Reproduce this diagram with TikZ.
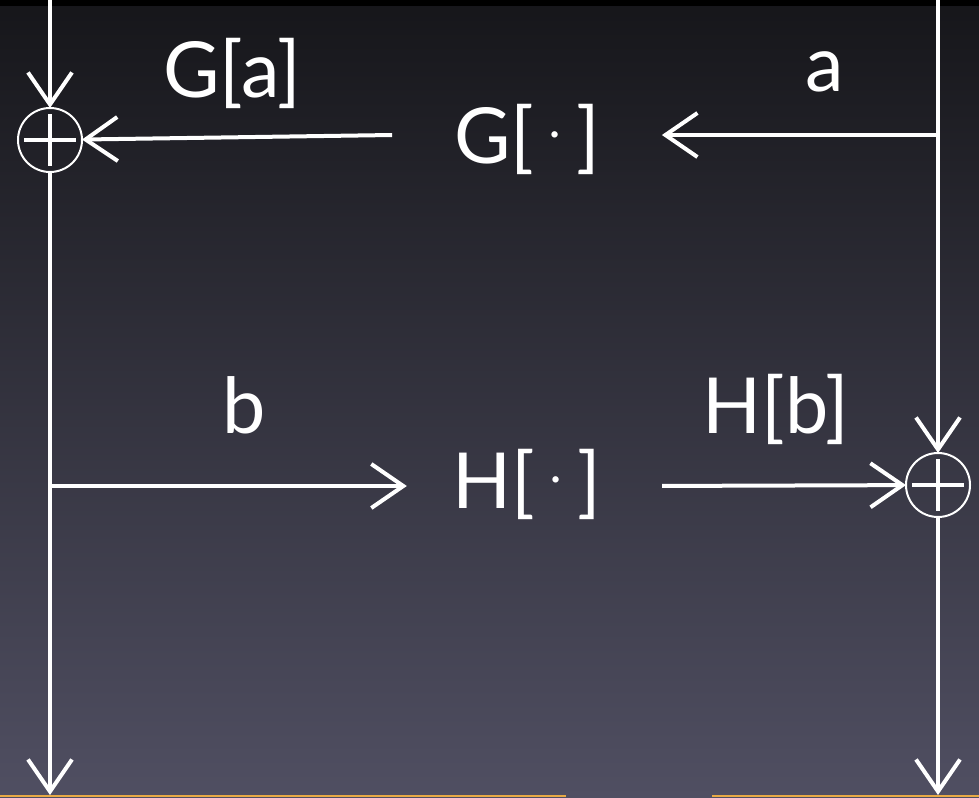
\documentclass[tikz,border=0pt]{standalone}
\usepackage{fontspec}
\setmainfont{Lato}
\usepackage{tikz}
\usetikzlibrary{positioning,arrows.meta}
\definecolor{bgtop}{RGB}{22,22,26}
\definecolor{bgbot}{RGB}{80,79,98}
\definecolor{edgeorange}{RGB}{232,170,70}
\newcommand{\argdot}{\hspace{0.2em}\raisebox{0.2em}{\scalebox{0.55}{·}}\hspace{0.2em}}

\begin{document}
\begin{tikzpicture}[x=0.25mm, y=-0.25mm, >={Straight Barb[length=8mm, width=11mm]},
                    sig/.style={draw=white, line width=1mm},
                    sumnode/.style={circle, draw=white, line width=0.5mm, minimum size=16mm,
                                    inner sep=0pt, outer sep=0pt,
                                    path picture={\draw[white, line width=1mm]
                                      (path picture bounding box.center) +(-26,0) -- +(26,0)
                                      +(0,-26) -- +(0,26);}},
                    op/.style={text=white, font=\fontsize{55}{60}\selectfont, inner ysep=0pt, outer sep=0pt},
                    lbl/.style={text=white, font=\fontsize{55}{60}\selectfont, inner sep=0pt, anchor=base west}]
            \useasboundingbox (0,0) rectangle (979,797);
            \shade[top color=bgtop, bottom color=bgbot] (0,0) rectangle (979,797);
            \fill[black] (0,0) rectangle (979,6);
            \fill[edgeorange] (0,795) rectangle (566,797);
            \fill[edgeorange] (712,795) rectangle (979,797);

            % Sum junctions
            \node[sumnode] (sumG) at (50,140) {};
            \node[sumnode] (sumH) at (938,485) {};

            % Operators
            \node[op, inner xsep=15.5mm, anchor=base] (opG) at (527,163) {G[\argdot]};
            \node[op, inner xsep=11.5mm, anchor=base] (opH) at (527,508) {H[\argdot]};

            % Branch points and ends
            \coordinate (inG) at (50,0);
            \coordinate (outG) at (50,795);
            \coordinate (bJoin) at (50,486);
            \coordinate (inH) at (938,0);
            \coordinate (aJoin) at (938,135);
            \coordinate (outH) at (938,795);

            % Signal lines
            \draw[sig, ->] (inG) -- (sumG);
            \draw[sig, ->] (sumG) -- (outG);
            \draw[sig, ->] (inH) -- (sumH);
            \draw[sig, ->] (sumH) -- (outH);
            \draw[sig, ->] (aJoin) -- (opG.east |- aJoin);
            \draw[sig, ->] (opG.west |- aJoin) -- (sumG);
            \draw[sig, ->] (bJoin) -- (opH.west |- bJoin);
            \draw[sig, ->, shorten <=3.75mm] (opH.east |- bJoin) -- (sumH);

            % Labels
            \node[lbl] (lblGa) at (163,97) {G[a]};
            \node[lbl] (lbla) at (805,92) {a};
            \node[lbl] (lblb) at (222,433) {b};
            \node[lbl] (lblHb) at (702,433) {H[b]};
\end{tikzpicture}
\end{document}
